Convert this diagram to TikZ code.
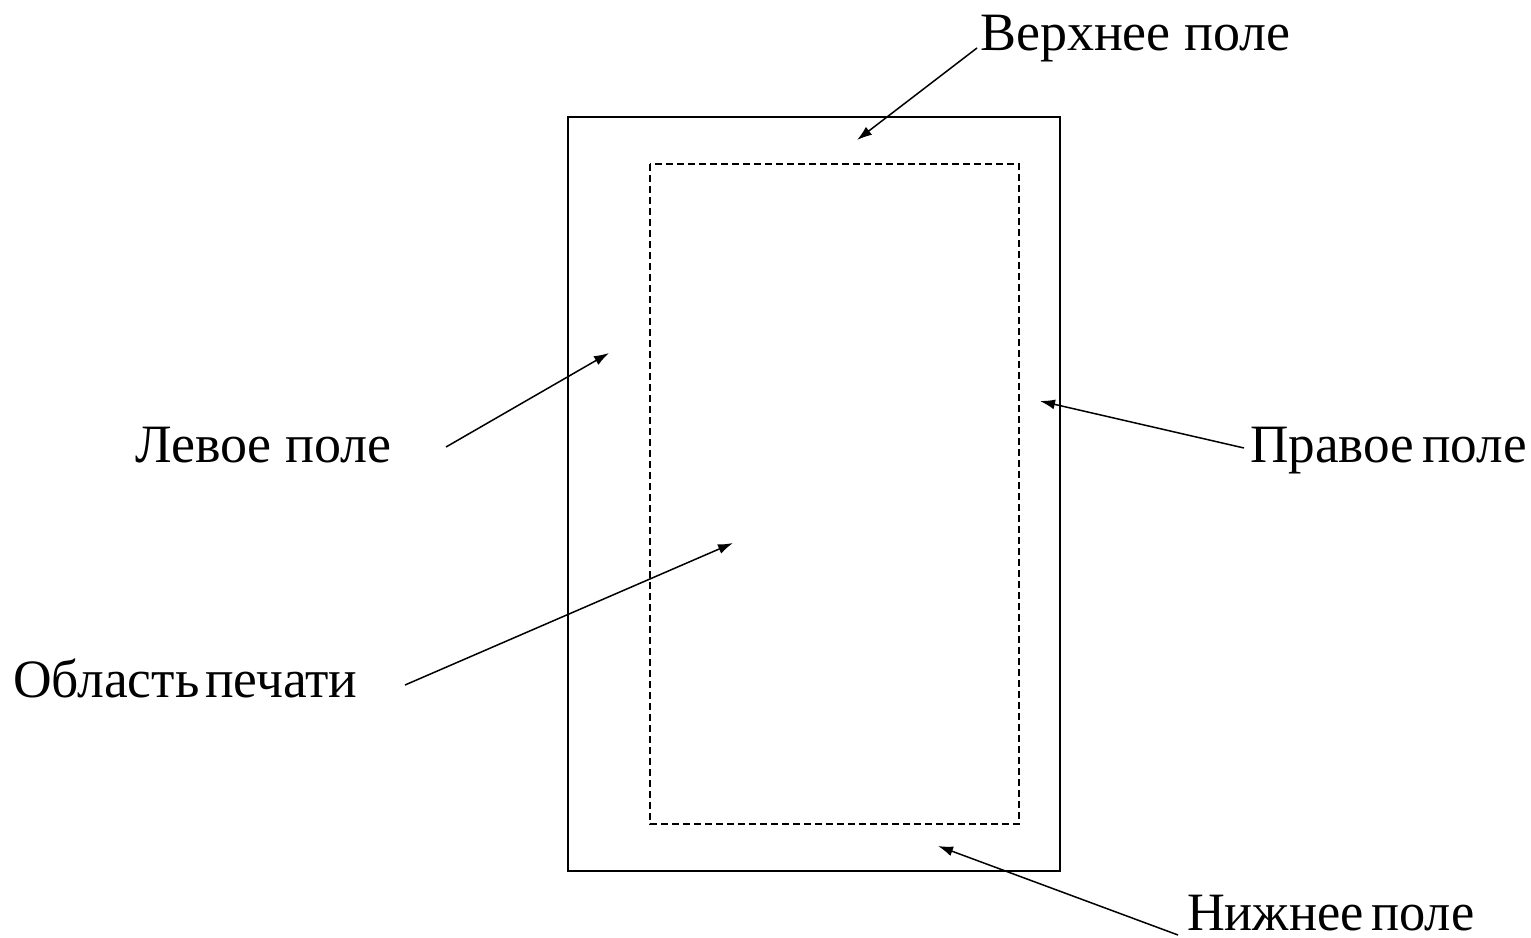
\documentclass[tikz,border=0pt]{standalone}
\usepackage{fontspec}
\usepackage{graphicx}
\setmainfont{Liberation Serif}
\usetikzlibrary{arrows.meta}
\begin{document}
\begin{tikzpicture}[x=0.5pt,y=-0.5pt,
  page/.style={draw,line width=1pt},
  printarea/.style={draw,line width=0.65pt,dash pattern=on 3.5pt off 2pt},
  callout/.style={draw,line width=0.75pt,-{Latex[length=7.5pt,width=5pt]}},
  caption/.style={anchor=base west,inner sep=0pt,outer sep=0pt,
    font=\fontsize{27pt}{32pt}\selectfont}]
  \useasboundingbox (0,0) rectangle (1531,937);

  % sheet and printable area
  \draw[page] (568,117) rectangle (1060,871);
  \draw[printarea] (650,164) rectangle (1019,824);

  % captions
  \node[caption] (top)    at (980,50)  {Верхнее поле};
  \node[caption] (left)   at (135,462) {Левое поле};
  \node[caption] (right)  at (1250,462) {\scalebox{0.985}[1]{Правое\hspace{4pt}поле}};
  \node[caption] (print)  at (13,697)  {\scalebox{0.99}[1]{Область\hspace{3pt}печати}};
  \node[caption] (bottom) at (1187,930) {\scalebox{0.97}[1]{Нижнее\hspace{4pt}поле}};

  % arrow ends
  \coordinate (topS) at (977,48);    \coordinate (topT) at (857,140);
  \coordinate (leftS) at (446,447);  \coordinate (leftT) at (609,353);
  \coordinate (rightS) at (1244,448);\coordinate (rightT) at (1040,401);
  \coordinate (printS) at (405,685); \coordinate (printT) at (733,543);
  \coordinate (botS) at (1178,935);  \coordinate (botT) at (938,846);

  \draw[callout] (topS) -- (topT);
  \draw[callout] (leftS) -- (leftT);
  \draw[callout] (rightS) -- (rightT);
  \draw[callout] (printS) -- (printT);
  \draw[callout] (botS) -- (botT);
\end{tikzpicture}
\end{document}
